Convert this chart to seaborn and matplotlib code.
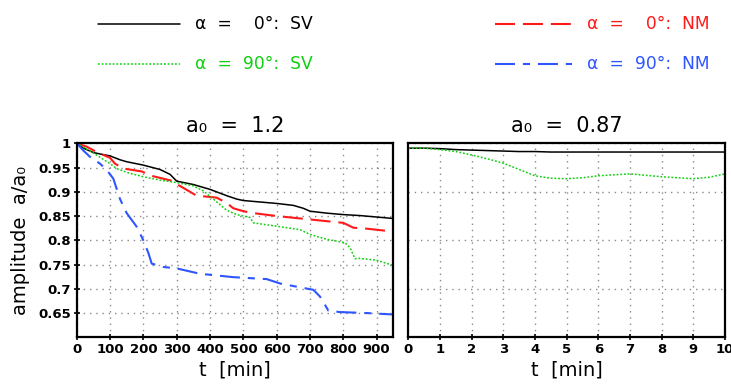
import matplotlib
matplotlib.use("Agg")
import matplotlib.pyplot as plt
from matplotlib.lines import Line2D
import numpy as np
import pandas as pd
import seaborn as sns

# ---- data: a0 = 1.2 (time in minutes) ----
t_sv0 = [0, 20, 50, 70, 100, 130, 150, 200, 250, 280, 300, 350, 400, 450, 480,
         500, 550, 600, 650, 680, 700, 750, 800, 850, 900, 950]
v_sv0 = [1.0, 0.99, 0.981, 0.978, 0.974, 0.966, 0.962, 0.955, 0.946, 0.936, 0.922,
         0.915, 0.905, 0.892, 0.885, 0.882, 0.879, 0.876, 0.872, 0.866, 0.860,
         0.856, 0.853, 0.851, 0.848, 0.845]

t_nm0 = [0, 30, 60, 100, 115, 140, 195, 230, 290, 300, 330, 360, 420, 450, 470,
         495, 520, 600, 700, 770, 800, 830, 870, 950]
v_nm0 = [1.0, 0.993, 0.982, 0.97, 0.958, 0.948, 0.942, 0.932, 0.922, 0.916, 0.904,
         0.892, 0.888, 0.877, 0.866, 0.861, 0.857, 0.850, 0.843, 0.838, 0.836,
         0.826, 0.824, 0.818]

t_sv90 = [0, 50, 100, 120, 150, 200, 250, 300, 350, 380, 410, 450, 480, 520, 530,
          600, 670, 700, 750, 805, 820, 835, 845, 900, 950]
v_sv90 = [1.0, 0.98, 0.958, 0.948, 0.94, 0.931, 0.924, 0.919, 0.912, 0.902, 0.885,
          0.862, 0.853, 0.847, 0.836, 0.829, 0.822, 0.812, 0.802, 0.795, 0.785,
          0.762, 0.763, 0.759, 0.748]

t_nm90 = [0, 20, 40, 70, 90, 110, 130, 150, 180, 200, 215, 225, 240, 260, 300,
          370, 470, 570, 610, 670, 710, 730, 745, 755, 790, 870, 950]
v_nm90 = [1.0, 0.985, 0.972, 0.958, 0.945, 0.927, 0.885, 0.856, 0.828, 0.80, 0.774,
          0.752, 0.749, 0.745, 0.742, 0.731, 0.724, 0.72, 0.711, 0.703, 0.698,
          0.684, 0.667, 0.655, 0.652, 0.65, 0.647]

# ---- data: a0 = 0.87 (time in minutes) ----
t_small = [0, 0.5, 1, 1.5, 2, 2.5, 3, 3.5, 4, 4.5, 5, 5.5, 6, 6.5, 7, 7.5, 8, 8.5,
           9, 9.5, 10]
v_small_sv0 = [0.990, 0.990, 0.989, 0.987, 0.986, 0.985, 0.984, 0.983, 0.983, 0.982,
               0.982, 0.982, 0.982, 0.982, 0.982, 0.982, 0.982, 0.982, 0.982, 0.982,
               0.982]
v_small_sv90 = [0.990, 0.990, 0.987, 0.983, 0.976, 0.968, 0.959, 0.946, 0.933, 0.928,
                0.927, 0.929, 0.933, 0.935, 0.937, 0.934, 0.931, 0.929, 0.927, 0.930,
                0.937]

left_xticks = [0, 100, 200, 300, 400, 500, 600, 700, 800, 900]
right_xticks = [0, 1, 2, 3, 4, 5, 6, 7, 8, 9, 10]
left_yticks = [0.65, 0.7, 0.75, 0.8, 0.85, 0.9, 0.95, 1.0]
left_ylabels = ["0.65", "0.7", "0.75", "0.8", "0.85", "0.9", "0.95", "1"]

titles = ["a\u2080  =  1.2", "a\u2080  =  0.87"]
legend_labels = ["\u03b1  =    0\u00b0:  SV", "\u03b1  =  90\u00b0:  SV",
                 "\u03b1  =    0\u00b0:  NM", "\u03b1  =  90\u00b0:  NM"]

# ---- styling ----
sns.set_theme(style="white")
plt.rcParams["font.family"] = ["DejaVu Sans"]
plt.rcParams["text.color"] = "black"
plt.rcParams["axes.labelcolor"] = "black"
plt.rcParams["xtick.color"] = "black"
plt.rcParams["ytick.color"] = "black"

BLACK = "#000000"
RED = "#ff1a1a"
GREEN = "#10d010"
BLUE = "#2f55ff"
STYLES = {
    "sv0": dict(color=BLACK, linestyle="-", linewidth=1.1),
    "sv90": dict(color=GREEN, linestyle=(0, (1.2, 1.2)), linewidth=1.1),
    "nm0": dict(color=RED, linestyle=(0, (9.6, 3.8)), linewidth=1.5),
    "nm90": dict(color=BLUE, linestyle=(0, (9.6, 3.8, 3.4, 3.8)), linewidth=1.5),
}

W, H = 731, 388
fig = plt.figure(figsize=(W / 100, H / 100), dpi=100)
fig.patch.set_facecolor("white")

ax1 = fig.add_axes([76.7 / W, 1 - 337.3 / H, 316.6 / W, 194.0 / H])
ax2 = fig.add_axes([408.3 / W, 1 - 337.3 / H, 316.7 / W, 194.0 / H])


def draw(ax, t, v, key):
    df = pd.DataFrame({"t": t, "v": v})
    sns.lineplot(data=df, x="t", y="v", ax=ax, estimator=None, sort=False,
                 **STYLES[key])


draw(ax1, t_sv0, v_sv0, "sv0")
draw(ax1, t_nm0, v_nm0, "nm0")
draw(ax1, t_sv90, v_sv90, "sv90")
draw(ax1, t_nm90, v_nm90, "nm90")

draw(ax2, t_small, v_small_sv0, "sv0")
draw(ax2, t_small, v_small_sv90, "sv90")

grid_kw = dict(color="#8a8a8a", linestyle=(0, (1, 3.5)), linewidth=1.0)

ax1.set_xlim(0, 950)
ax1.set_ylim(0.6, 1.0)
ax1.set_xticks(left_xticks)
ax1.set_yticks(left_yticks)
ax1.set_yticklabels(left_ylabels)

ax2.set_xlim(0, 10)
ax2.set_ylim(0.6, 1.0)
ax2.set_xticks(right_xticks)
ax2.set_yticks([0.6, 0.7, 0.8, 0.9, 1.0])
ax2.set_yticklabels([])

for ax, title in zip((ax1, ax2), titles):
    ax.grid(True, **grid_kw)
    ax.set_axisbelow(True)
    for sp in ax.spines.values():
        sp.set_visible(True)
        sp.set_color("black")
        sp.set_linewidth(1.6)
    ax.tick_params(axis="both", which="major", direction="inout", length=4,
                   width=1.2, color="black", labelcolor="black", labelsize=9.5,
                   pad=2, left=True, bottom=True)
    for lab in ax.get_xticklabels() + ax.get_yticklabels():
        lab.set_fontweight("bold")
    ax.set_xlabel("t  [min]", fontsize=14, labelpad=3, color="black")
    ax.set_ylabel("")
    ax.set_title(title, fontsize=15, pad=8, color="black")

ax2.tick_params(axis="y", length=0)
ax1.set_ylabel("amplitude  a/a\u2080", fontsize=14, labelpad=6, color="black")

# ---- legend drawn across the top of the figure ----
entries = [
    ("sv0", legend_labels[0], 98, 180, 24),
    ("sv90", legend_labels[1], 98, 180, 64),
    ("nm0", legend_labels[2], 495, 572, 24),
    ("nm90", legend_labels[3], 495, 572, 64),
]
for key, text, x0, x1, y in entries:
    st = STYLES[key]
    fig.add_artist(Line2D([x0 / W, x1 / W], [1 - y / H, 1 - y / H],
                          transform=fig.transFigure, color=st["color"],
                          linestyle=st["linestyle"], linewidth=st["linewidth"]))
    fig.text((x1 + 15) / W, 1 - y / H, text, color=st["color"], fontsize=12.3,
             va="center", ha="left")

fig.savefig("out.png", dpi=100, facecolor="white")
